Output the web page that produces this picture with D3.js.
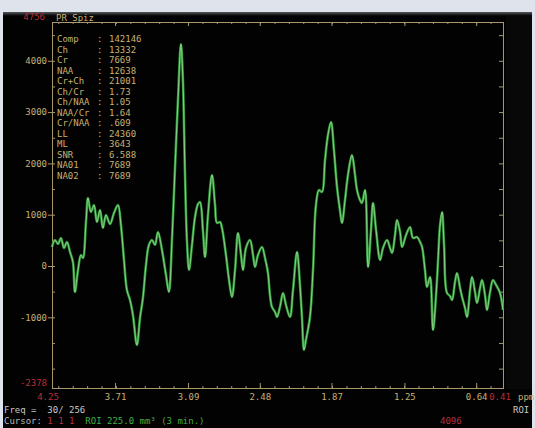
<!DOCTYPE html>
<html>
<head>
<meta charset="utf-8">
<script src="https://cdn.jsdelivr.net/npm/d3@7/dist/d3.min.js"></script>
<style>
  html, body { margin: 0; padding: 0; background: #dfe4ec; }
  svg { display: block; }
  text { font-family: "DejaVu Sans Mono", "Liberation Mono", monospace; }
</style>
</head>
<body>
<svg id="chart" width="535" height="428"></svg>
<script>
// Chemical shift (ppm) of each sample along the spectrum
const ppm = [
  4.246, 4.221, 4.195, 4.170, 4.144, 4.119, 4.093, 4.068, 4.051, 4.025,
  4.000, 3.983, 3.957, 3.940, 3.915, 3.889, 3.864, 3.838, 3.813, 3.787,
  3.753, 3.719, 3.685, 3.660, 3.634, 3.609, 3.583, 3.558, 3.524, 3.498,
  3.473, 3.447, 3.422, 3.396, 3.371, 3.345, 3.311, 3.277, 3.252, 3.226,
  3.201, 3.175, 3.150, 3.133, 3.116, 3.099, 3.081, 3.056, 3.030, 3.005,
  2.988, 2.962, 2.945, 2.920, 2.886, 2.860, 2.843, 2.818, 2.801, 2.767,
  2.741, 2.716, 2.690, 2.665, 2.639, 2.622, 2.597, 2.563, 2.537, 2.520,
  2.495, 2.461, 2.435, 2.410, 2.393, 2.376, 2.350, 2.333, 2.308, 2.282,
  2.257, 2.223, 2.197, 2.163, 2.138, 2.121, 2.104, 2.087, 2.053, 2.027,
  2.002, 1.976, 1.951, 1.925, 1.900, 1.874, 1.849, 1.823, 1.798, 1.781,
  1.755, 1.730, 1.696, 1.670, 1.653, 1.628, 1.611, 1.585, 1.559, 1.534,
  1.517, 1.491, 1.457, 1.432, 1.398, 1.372, 1.355, 1.330, 1.313, 1.287,
  1.270, 1.236, 1.202, 1.177, 1.143, 1.117, 1.100, 1.075, 1.058, 1.032,
  1.007, 0.981, 0.964, 0.947, 0.930, 0.913, 0.888, 0.862, 0.845, 0.820,
  0.803, 0.777, 0.760, 0.735, 0.718, 0.692, 0.675, 0.650, 0.633, 0.607,
  0.590, 0.565, 0.548, 0.522, 0.497, 0.471, 0.437, 0.412
];

// Signal amplitude at each sample
const signal = [
   370,  507,  429,  546,  351,  468,  273,   78, -507,  -78,
   214,  156,  858, 1325, 1052, 1189,  858, 1091,  741,  994,
   819, 1033, 1189,  799,  117, -468, -663, -955,-1540,-1013,
  -624,   19,  409,  507,  409,  663,  312, -175, -507,  507,
  1871, 3235, 4327, 3625, 1871,  507,  -78,  409,  955, 1208,
  1247,  663,  175,  994, 1774, 1189,  838,  858,  741,  214,
  -273, -604,  -78,  643,  214,  -78,  351,  507,  214,  -19,
   214,  370,  156, -136, -565, -799, -897, -994, -799, -526,
  -760, -994, -468,  273, -370, -994,-1637,-1442, -994,  -78,
  1189, 1481, 1442, 2066, 2553, 2807, 2261, 1540, 1091,  838,
  1286, 1774, 2163, 1774, 1481, 1286, 1228, 1481,  -19,  702,
  1228,  702,  117,  351,  507,  351,  253,  604,  897,  663,
   370,  604,  760,  546,  565,  468,  370,  -78, -409, -214,
 -1247, -565,  117,  799, 1052,  409, -526, -585, -663, -312,
  -136, -429, -604, -819, -994, -468, -214, -507, -721, -429,
  -273, -565, -858, -507, -273, -370, -526, -858
];

// Axis ranges and tick labels
const ppmRange = [4.246, 0.412];
const ppmRangeLabels = ["4.25", "0.41"];
const ppmTicks = [3.71, 3.09, 2.48, 1.87, 1.25, 0.64];
const ppmTickLabels = ["3.71", "3.09", "2.48", "1.87", "1.25", "0.64"];
const ampRange = [-2378, 4756];
const ampRangeLabels = ["-2378", "4756"];
const ampTicks = [-1000, 0, 1000, 2000, 3000, 4000];
const ampTickLabels = ["-1000", "0", "1000", "2000", "3000", "4000"];

// Quantitation readout shown inside the plot
const resultNames  = ["Comp", "Ch", "Cr", "NAA", "Cr+Ch", "Ch/Cr", "Ch/NAA", "NAA/Cr", "Cr/NAA", "LL", "ML", "SNR", "NA01", "NA02"];
const resultValues = ["142146", "13332", "7669", "12638", "21001", "1.73", "1.05", "1.64", ".609", "24360", "3643", "6.588", "7689", "7689"];

const seriesName = "PR_Spiz";

const svg = d3.select("#chart");
const W = 535, H = 428;
const frame = { left: 52, right: 503, top: 22, bottom: 388 };

const colFrame = "#a8976a";
const colText = "#c8b072";
const colRed = "#b82e3a";

// monitor screen
const defs = svg.append("defs");
const shade = defs.append("linearGradient").attr("id", "topShade")
  .attr("x1", 0).attr("y1", 0).attr("x2", 0).attr("y2", 1);
shade.append("stop").attr("offset", 0).attr("stop-color", "#55585c");
shade.append("stop").attr("offset", 1).attr("stop-color", "#000000");

svg.append("rect").attr("x", 0).attr("y", 0).attr("width", W).attr("height", H).attr("fill", "#dfe4ec");
svg.append("rect").attr("x", 3).attr("y", 12).attr("width", 529).attr("height", H - 12).attr("fill", "#020202");
svg.append("rect").attr("x", 3).attr("y", 12).attr("width", 529).attr("height", 4).attr("fill", "url(#topShade)");
svg.append("rect").attr("x", 506).attr("y", 16).attr("width", 26).attr("height", 373).attr("fill", "#080808");

const x = d3.scaleLinear().domain(ppmRange).range([frame.left, frame.right]);
const y = d3.scaleLinear().domain(ampRange).range([frame.bottom, frame.top]);

// minor ppm ticks: five per labelled interval
const ppmStep = (ppmTicks[1] - ppmTicks[ppmTicks.length - 1]) / ((ppmTicks.length - 2) * 5);
const ppmMinor = d3.range(-40, 40).map(k => +(ppmTicks[ppmTicks.length - 1] + k * ppmStep).toFixed(4))
  .filter(v => v < ppmRange[0] && v > ppmRange[1]);
const ampMinor = d3.range(-2000, ampRange[1], 500);

function styleAxis(g) {
  g.select(".domain").remove();
  g.selectAll("line").attr("stroke", colFrame).attr("stroke-width", 1);
  g.selectAll("text").attr("fill", colText).attr("font-size", 9);
}

// bottom axis: inward ticks and labels
svg.append("g").attr("transform", `translate(0,${frame.bottom})`)
  .call(d3.axisBottom(x).tickValues(ppmMinor).tickSize(-2).tickFormat(""))
  .call(styleAxis);
svg.append("g").attr("transform", `translate(0,${frame.bottom})`)
  .call(d3.axisBottom(x).tickValues(ppmTicks).tickSizeInner(-5).tickSizeOuter(0).tickPadding(6)
    .tickFormat((d, i) => ppmTickLabels[i]))
  .call(styleAxis);

// top axis
svg.append("g").attr("transform", `translate(0,${frame.top})`)
  .call(d3.axisBottom(x).tickValues(ppmMinor).tickSize(2).tickFormat(""))
  .call(styleAxis);
svg.append("g").attr("transform", `translate(0,${frame.top})`)
  .call(d3.axisBottom(x).tickValues(ppmTicks).tickSize(4).tickFormat(""))
  .call(styleAxis);

// left axis: labels with ticks crossing the frame
svg.append("g").attr("transform", `translate(${frame.left},0)`)
  .call(d3.axisLeft(y).tickValues(ampTicks).tickSizeInner(4).tickSizeOuter(0).tickPadding(1)
    .tickFormat((d, i) => ampTickLabels[i]))
  .call(styleAxis);
svg.append("g").attr("transform", `translate(${frame.left},0)`)
  .call(d3.axisRight(y).tickValues(ampMinor).tickSize(3).tickFormat(""))
  .call(styleAxis);

// right axis
svg.append("g").attr("transform", `translate(${frame.right},0)`)
  .call(d3.axisLeft(y).tickValues(ampMinor).tickSize(4).tickFormat(""))
  .call(g => { g.select(".domain").remove(); g.selectAll("line").attr("x2", -4).attr("stroke", colFrame); });

// frame
svg.append("rect")
  .attr("x", frame.left + 0.5).attr("y", frame.top + 0.5)
  .attr("width", frame.right - frame.left).attr("height", frame.bottom - frame.top)
  .attr("fill", "none").attr("stroke", colFrame).attr("stroke-width", 1);

// range labels in red
svg.append("text").attr("x", frame.left - 7).attr("y", frame.top - 2)
  .attr("text-anchor", "end").attr("font-size", 9).attr("fill", colRed).text(ampRangeLabels[1]);
svg.append("text").attr("x", frame.left - 5).attr("y", frame.bottom - 2)
  .attr("text-anchor", "end").attr("font-size", 9).attr("fill", colRed).text(ampRangeLabels[0]);
svg.append("text").attr("x", x(ppmRange[0]) - 4).attr("y", frame.bottom + 12)
  .attr("text-anchor", "middle").attr("font-size", 9).attr("fill", colRed).text(ppmRangeLabels[0]);
svg.append("text").attr("x", x(ppmRange[1]) - 3).attr("y", frame.bottom + 12)
  .attr("text-anchor", "middle").attr("font-size", 9).attr("fill", colRed).text(ppmRangeLabels[1]);
svg.append("text").attr("x", 518).attr("y", frame.bottom + 12)
  .attr("font-size", 9).attr("fill", colText).text("ppm");

// series title
svg.append("text").attr("x", 56).attr("y", frame.top - 1)
  .attr("font-size", 9).attr("fill", colText).text(seriesName);

// quantitation table
const rows = svg.append("g").selectAll("g").data(resultNames).join("g")
  .attr("transform", (d, i) => `translate(57,${42 + i * 10.5})`);
rows.append("text").attr("font-size", 9).attr("fill", colText).text(d => d);
rows.append("text").attr("x", 40).attr("font-size", 9).attr("fill", colText).text(":");
rows.append("text").attr("x", 52).attr("font-size", 9).attr("fill", colText).text((d, i) => resultValues[i]);

// spectrum trace: green glow with a lighter core
const line = d3.line()
  .x((d, i) => x(ppm[i]))
  .y(d => y(d))
  .curve(d3.curveCatmullRom.alpha(0.5));

svg.append("path").datum(signal)
  .attr("d", line).attr("fill", "none")
  .attr("stroke", "#2a9134").attr("stroke-width", 2.6)
  .attr("stroke-linejoin", "round");
svg.append("path").datum(signal)
  .attr("d", line).attr("fill", "none")
  .attr("stroke", "#93da8f").attr("stroke-width", 0.9)
  .attr("stroke-linejoin", "round");

// status lines under the plot
svg.append("text").attr("x", 4).attr("y", 413).attr("font-size", 9).attr("fill", "#c9c9c9")
  .attr("xml:space", "preserve").text("Freq =  30/ 256");
svg.append("text").attr("x", 513).attr("y", 413).attr("font-size", 9).attr("fill", "#c9c9c9").text("ROI");
const status = svg.append("text").attr("x", 4).attr("y", 424).attr("font-size", 9).attr("xml:space", "preserve");
status.append("tspan").attr("fill", "#b9b9b9").text("Cursor: ");
status.append("tspan").attr("fill", colRed).text("1 1 1  ");
status.append("tspan").attr("fill", "#3fae4a").text("ROI 225.0 mm³ (3 min.)");
svg.append("text").attr("x", 440).attr("y", 424).attr("font-size", 9).attr("fill", colRed).text("4096");
</script>
</body>
</html>
